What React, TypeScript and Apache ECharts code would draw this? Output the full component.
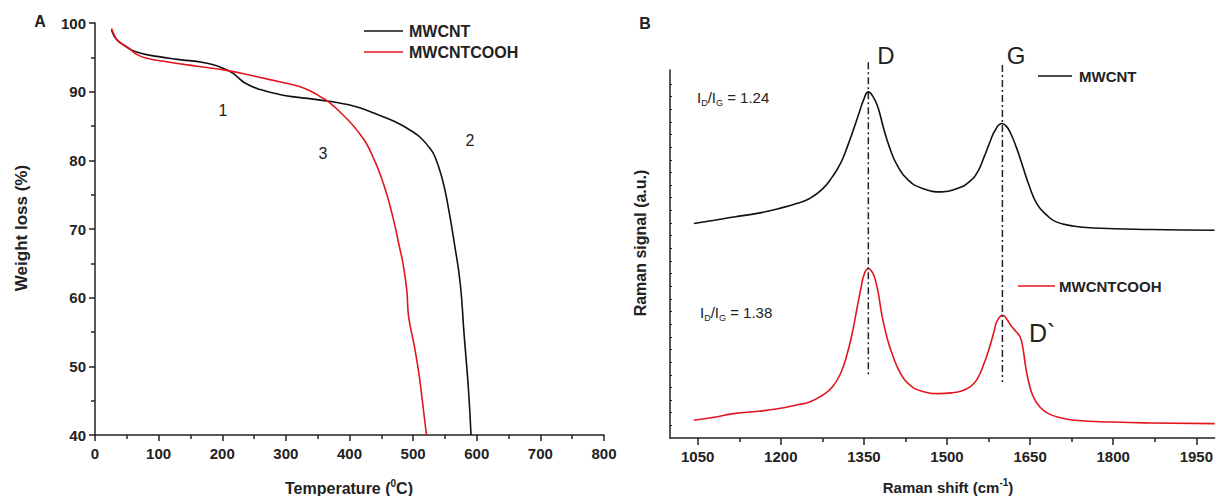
import React, { useEffect, useRef } from "react";
import * as echarts from "echarts";

// ---------- Panel A: TGA ----------
const tgaMwcntT = [26, 30, 35, 45, 64, 100, 130, 172, 207, 222, 235, 260, 290, 316, 340, 368, 390, 409, 430, 446, 470, 490, 505, 515, 525, 534, 546, 555, 565, 574, 580, 587, 591];
const tgaMwcntW = [99.0, 98.1, 97.5, 96.8, 95.8, 95.1, 94.7, 94.2, 93.2, 92.3, 91.3, 90.3, 89.6, 89.2, 88.95, 88.6, 88.25, 87.85, 87.2, 86.6, 85.7, 84.7, 83.8, 83.0, 81.9, 80.6, 77.2, 73.3, 67.8, 62.1, 54.8, 46.6, 40.0];
const tgaCoohT = [26, 30, 35, 45, 54, 64, 80, 110, 160, 207, 253, 297, 320, 341, 355, 366, 390, 415, 434, 453, 468, 478, 484, 490, 493, 502, 509, 515, 521];
const tgaCoohW = [99.2, 98.3, 97.5, 96.8, 96.3, 95.5, 94.9, 94.4, 93.7, 93.1, 92.2, 91.3, 90.8, 90.0, 89.2, 88.6, 86.6, 84.0, 81.1, 76.7, 71.8, 67.6, 65.0, 61.1, 57.2, 52.9, 49.0, 44.6, 40.0];
const tgaXTicks = { min: 0, max: 800, interval: 100 };
const tgaYTicks = { min: 40, max: 100, interval: 10 };

// ---------- Panel B: Raman ----------
const ramanMwcntX = [1043, 1080, 1115, 1160, 1197, 1230, 1252, 1275, 1293, 1308, 1320, 1332, 1341, 1350, 1358, 1366, 1375, 1385, 1396, 1410, 1430, 1455, 1491, 1520, 1540, 1555, 1567, 1578, 1587, 1599, 1607, 1615, 1625, 1635, 1648, 1662, 1680, 1697, 1730, 1765, 1868, 1983];
const ramanMwcntY = [16.96, 17.22, 17.48, 17.78, 18.15, 18.57, 18.94, 19.68, 20.65, 21.73, 23.02, 24.5, 25.66, 26.8, 27.37, 27.03, 26.19, 24.58, 23.02, 21.57, 20.39, 19.75, 19.46, 19.75, 20.25, 21.02, 22.23, 23.47, 24.34, 24.87, 24.66, 24.08, 23.0, 21.71, 19.99, 18.54, 17.62, 17.09, 16.75, 16.61, 16.49, 16.43];
const ramanCoohX = [1043, 1080, 1115, 1160, 1197, 1230, 1252, 1275, 1293, 1308, 1320, 1330, 1338, 1345, 1351, 1358, 1364, 1369, 1376, 1382, 1392, 1403, 1415, 1430, 1455, 1485, 1510, 1526, 1540, 1553, 1565, 1577, 1585, 1591, 1601, 1608, 1615, 1624, 1632, 1637, 1642, 1648, 1656, 1668, 1683, 1705, 1731, 1800, 1868, 1983];
const ramanCoohY = [1.4, 1.64, 1.93, 2.11, 2.33, 2.63, 2.85, 3.38, 4.03, 5.12, 6.68, 8.52, 10.36, 11.92, 13.01, 13.4, 13.19, 12.74, 11.45, 9.84, 7.89, 6.41, 5.2, 4.3, 3.69, 3.51, 3.58, 3.72, 4.01, 4.56, 5.67, 7.2, 8.44, 9.31, 9.71, 9.39, 8.92, 8.44, 7.99, 7.1, 5.62, 4.33, 3.24, 2.43, 1.93, 1.6, 1.4, 1.26, 1.19, 1.14];
const ramanMajorTicks = [1050, 1200, 1350, 1500, 1650, 1800, 1950];
const ramanMinorTicks = [1125, 1275, 1425, 1575, 1725, 1875];
const ramanYTicks = [1, 2, 3, 4, 5, 6, 7, 8, 9, 10, 11, 12, 13, 14, 15, 16, 17, 18, 19, 20, 21, 22, 23, 24, 25, 26, 27, 28];
const peakD = [1358, 29.71, 4.83];
const peakG = [1600, 29.49, 4.43];
const ratioMwcnt = "1.24";
const ratioCooh = "1.38";

const FONT = '"Liberation Sans", Arial, Helvetica, sans-serif';
const AX = "#222";
const RED = "#e3161e";

const zip = (xs: number[], ys: number[]) => xs.map((x, i) => [x, ys[i]]);

const labelStyle = { fontSize: 15, fontWeight: 700, color: AX, fontFamily: FONT, formatter: (v: number) => String(v) };

export default function App() {
  const ref = useRef<HTMLDivElement>(null);
  useEffect(() => {
    if (!ref.current) return;
    const chart = echarts.init(ref.current, null, { renderer: "svg" });
    const lineAx = { show: true, onZero: false, lineStyle: { color: AX, width: 1.5 } };
    const txt = (x: number, y: number, text: string, size: number, bold = false, align = "center") => ({
      type: "text",
      x,
      y,
      silent: true,
      style: { text, fontSize: size, fontWeight: bold ? "bold" : "normal", fontFamily: FONT, fill: AX, align, verticalAlign: "middle" },
    });
    const seg = (x1: number, y1: number, x2: number, y2: number, color: string) => ({
      type: "line",
      silent: true,
      shape: { x1, y1, x2, y2 },
      style: { stroke: color, lineWidth: 1.5 },
    });
    const ratioText = (x: number, y: number, v: string) => ({
      type: "text",
      x,
      y,
      silent: true,
      style: {
        text: `{a|I}{s|D}{a|/I}{s|G}{a| = ${v}}`,
        align: "left",
        verticalAlign: "middle",
        rich: {
          a: { fontSize: 15, fontFamily: FONT, fill: AX, lineHeight: 20 },
          s: { fontSize: 9, fontFamily: FONT, fill: AX, lineHeight: 9, verticalAlign: "bottom" },
        },
      },
    });
    const curve = (name: string, xi: number, data: number[][], color: string) => ({
      name,
      type: "line",
      xAxisIndex: xi,
      yAxisIndex: xi === 0 ? 0 : 1,
      data,
      symbol: "none",
      smooth: 0.5,
      lineStyle: { color, width: 1.6 },
      silent: true,
    });
    const option: any = {
      animation: false,
      grid: [
        { left: 95, right: 612, top: 23, bottom: 61 },
        { left: 670, right: 0, top: 70, bottom: 58 },
      ],
      xAxis: [
        {
          gridIndex: 0,
          type: "value",
          ...tgaXTicks,
          axisLine: lineAx,
          axisTick: { show: true, length: 6, lineStyle: { color: AX, width: 1.5 } },
          minorTick: { show: true, splitNumber: 2, length: 4, lineStyle: { color: AX, width: 1.5 } },
          splitLine: { show: false },
          minorSplitLine: { show: false },
          axisLabel: { ...labelStyle, margin: 11 },
        },
        {
          gridIndex: 1,
          type: "value",
          min: 1000,
          max: 1983,
          position: "bottom",
          axisLine: lineAx,
          axisTick: { show: true, length: 7, customValues: ramanMajorTicks, lineStyle: { color: AX, width: 1.5 } },
          splitLine: { show: false },
          axisLabel: { ...labelStyle, margin: 11, customValues: ramanMajorTicks },
        },
        {
          gridIndex: 1,
          type: "value",
          min: 1000,
          max: 1983,
          position: "bottom",
          offset: 0,
          axisLine: { show: false },
          axisTick: { show: true, length: 4, customValues: ramanMinorTicks, lineStyle: { color: AX, width: 1.5 } },
          splitLine: { show: false },
          axisLabel: { show: false },
        },
      ],
      yAxis: [
        {
          gridIndex: 0,
          type: "value",
          ...tgaYTicks,
          axisLine: lineAx,
          axisTick: { show: true, length: 6, lineStyle: { color: AX, width: 1.5 } },
          minorTick: { show: true, splitNumber: 2, length: 4, lineStyle: { color: AX, width: 1.5 } },
          splitLine: { show: false },
          minorSplitLine: { show: false },
          axisLabel: { ...labelStyle, margin: 9 },
        },
        {
          gridIndex: 1,
          type: "value",
          min: 0,
          max: 29.1,
          axisLine: lineAx,
          axisTick: { show: true, inside: true, length: 2, customValues: ramanYTicks, lineStyle: { color: AX, width: 1 } },
          splitLine: { show: false },
          axisLabel: { show: false },
        },
      ],
      series: [
        curve("MWCNT", 0, zip(tgaMwcntT, tgaMwcntW), "#111"),
        curve("MWCNTCOOH", 0, zip(tgaCoohT, tgaCoohW), RED),
        curve("MWCNT", 1, zip(ramanMwcntX, ramanMwcntY), "#111"),
        curve("MWCNTCOOH", 1, zip(ramanCoohX, ramanCoohY), RED),
        { name: "D", type: "line", xAxisIndex: 1, yAxisIndex: 1, clip: false, data: [[peakD[0], peakD[1]], [peakD[0], peakD[2]]], symbol: "none", lineStyle: { color: AX, width: 1.5, type: [7, 3, 2, 3] }, silent: true },
        { name: "G", type: "line", xAxisIndex: 1, yAxisIndex: 1, clip: false, data: [[peakG[0], peakG[1]], [peakG[0], peakG[2]]], symbol: "none", lineStyle: { color: AX, width: 1.5, type: [7, 3, 2, 3] }, silent: true },
      ],
      graphic: [
        txt(40, 21, "A", 16, true),
        txt(645, 23, "B", 16, true),
        // legend A
        seg(364, 31, 403, 31, "#111"),
        txt(409, 31, "MWCNT", 16, true, "left"),
        seg(364, 52, 403, 52, RED),
        txt(409, 52, "MWCNTCOOH", 16, true, "left"),
        // legend B
        seg(1038, 76, 1072, 76, "#111"),
        txt(1079, 76, "MWCNT", 15, true, "left"),
        seg(1018, 286, 1055, 286, RED),
        txt(1059, 286, "MWCNTCOOH", 15, true, "left"),
        // annotations A
        txt(223, 110, "1", 16),
        txt(323, 153, "3", 16),
        txt(470, 140, "2", 16),
        // annotations B
        txt(886, 55, "D", 24),
        txt(1016, 55, "G", 24),
        txt(1029, 333, "D`", 25, false, "left"),
        ratioText(697, 97, ratioMwcnt),
        ratioText(700, 312, ratioCooh),
        // axis titles
        {
          type: "text",
          x: 349,
          y: 488,
          silent: true,
          style: {
            text: "{a|Temperature (}{s|0}{a|C)}",
            align: "center",
            verticalAlign: "middle",
            rich: {
              a: { fontSize: 16, fontWeight: "bold", fontFamily: FONT, fill: AX, lineHeight: 20 },
              s: { fontSize: 10, fontWeight: "bold", fontFamily: FONT, fill: AX, lineHeight: 10, verticalAlign: "top" },
            },
          },
        },
        {
          type: "text",
          x: 948,
          y: 487,
          silent: true,
          style: {
            text: "{a|Raman shift (cm}{s|-1}{a|)}",
            align: "center",
            verticalAlign: "middle",
            rich: {
              a: { fontSize: 15, fontWeight: "bold", fontFamily: FONT, fill: AX, lineHeight: 20 },
              s: { fontSize: 10, fontWeight: "bold", fontFamily: FONT, fill: AX, lineHeight: 10, verticalAlign: "top" },
            },
          },
        },
        {
          type: "text",
          x: 21,
          y: 228,
          rotation: Math.PI / 2,
          silent: true,
          style: { text: "Weight loss (%)", fontSize: 17, fontWeight: "bold", fontFamily: FONT, fill: AX, align: "center", verticalAlign: "middle" },
        },
        {
          type: "text",
          x: 640,
          y: 243,
          rotation: Math.PI / 2,
          silent: true,
          style: { text: "Raman signal (a.u.)", fontSize: 16, fontWeight: "bold", fontFamily: FONT, fill: AX, align: "center", verticalAlign: "middle" },
        },
      ],
    };
    chart.setOption(option);
    return () => chart.dispose();
  }, []);
  return <div ref={ref} style={{ position: "absolute", left: 0, top: 0, width: 1216, height: 496, background: "#fff" }} />;
}
